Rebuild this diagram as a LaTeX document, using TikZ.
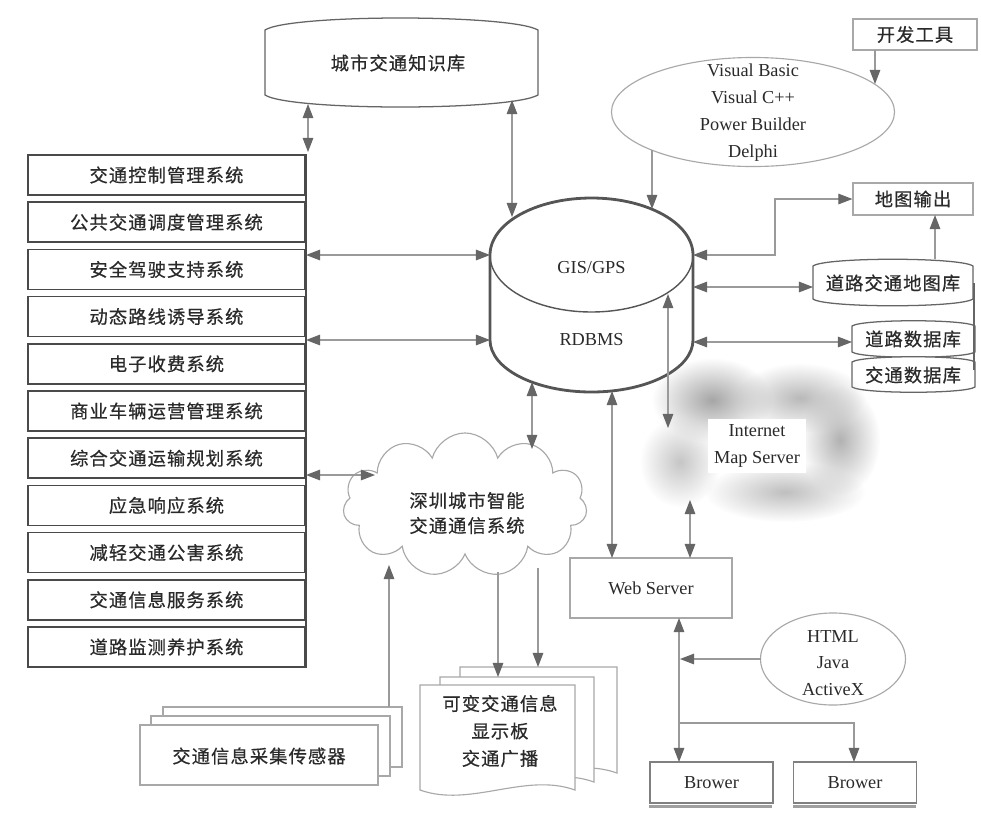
\documentclass[tikz,border=0pt]{standalone}
\usepackage{fontspec}
\setmainfont{Liberation Serif}
\newfontfamily\cjk{Noto Sans CJK SC}[LetterSpace=6, FakeBold=0.5]
\usetikzlibrary{arrows.meta,shapes.geometric,shapes.symbols,fadings}
\definecolor{boxg}{HTML}{4A4A4A}
\definecolor{lineg}{HTML}{9A9A9A}
\definecolor{arrg}{HTML}{666666}
\definecolor{cylg}{HTML}{555555}
\definecolor{ellg}{HTML}{A8A8A8}
\definecolor{txtg}{HTML}{2A2A2A}
\tikzfading[name=softcirc, inner color=transparent!0, outer color=transparent!100]
\begin{document}
\begin{tikzpicture}[x=0.025cm, y=-0.025cm,
  >={Triangle[length=10pt,width=7.5pt,color=arrg]},
  cn/.style={draw=lineg, line width=0.8pt},
  sa/.style={cn, ->},
  da/.style={cn, <->},
  zh/.style={font=\cjk\fontsize{13}{15}\selectfont, text=txtg},
  en/.style={font=\fontsize{13}{19}\selectfont, text=txtg},
  sysbox/.style={zh, draw=boxg, line width=1.1pt, minimum width=6.925cm, minimum height=1cm, inner sep=0pt, fill=white},
  thinbox/.style={draw=ellg, line width=0.8pt, fill=white},
  dbshape/.style={draw=boxg!85, line width=0.9pt, fill=white}
]
\fill[white] (0,0) rectangle (981,818);
\useasboundingbox (0,0) rectangle (981,818);

% ---------- knowledge base ----------
\draw[dbshape] (265,30) .. controls (290,14) and (510,14) .. (538,30) -- (538,95) .. controls (510,111) and (290,111) .. (265,95) -- cycle;
\node[zh] (kb) at (398,63) {城市交通知识库};

% ---------- list of systems ----------
\foreach \t [count=\i] in {交通控制管理系统,公共交通调度管理系统,安全驾驶支持系统,动态路线诱导系统,电子收费系统,商业车辆运营管理系统,综合交通运输规划系统,应急响应系统,减轻交通公害系统,交通信息服务系统,道路监测养护系统}
  \node[sysbox] (s\i) at (166.5,{175+47.2*(\i-1)}) {\t};
\draw[boxg, line width=1.3pt] (s1.north east) -- (s11.south east);

% ---------- cylinder ----------
\draw[cylg, line width=2pt, fill=white] (490,255) -- (490,340) .. controls (490,368.7) and (535.4,392) .. (591.5,392) .. controls (647.6,392) and (693,368.7) .. (693,340) -- (693,255) .. controls (693,223.5) and (647.6,198) .. (591.5,198) .. controls (535.4,198) and (490,223.5) .. (490,255) -- cycle;
\draw[cylg, line width=1pt] (490,255) .. controls (490,286.5) and (535.4,312) .. (591.5,312) .. controls (647.6,312) and (693,286.5) .. (693,255);
\node[en] (gis) at (591.5,268) {GIS/GPS};
\node[en] (rdb) at (591.5,340) {RDBMS};

% ---------- dev tools ----------
\node[ellipse, draw=ellg, line width=0.8pt, minimum width=7.075cm, minimum height=2.725cm, inner sep=0pt] (vb) at (753,112) {};
\node[en, align=center, font=\fontsize{13}{19.2}\selectfont] (vbt) at (753,113) {Visual Basic\\Visual C++\\Power Builder\\Delphi};
\node[zh, thinbox, minimum width=3.1cm, minimum height=0.775cm, inner sep=0pt] (kf) at (915,34.5) {开发工具};

% ---------- right databases ----------
\node[zh, thinbox, minimum width=3cm, minimum height=0.8cm, inner sep=0pt] (dt) at (913,199) {地图输出};
\draw[dbshape] (813,266) .. controls (825,257) and (960,257) .. (973,266) -- (973,299) .. controls (960,308) and (825,308) .. (813,299) -- cycle;
\node[zh] (mapdb) at (893,283) {道路交通地图库};
\draw[dbshape] (852,326) .. controls (862,319) and (965,319) .. (975,326) -- (975,352) .. controls (965,359) and (862,359) .. (852,352) -- cycle;
\draw[dbshape] (852,362) .. controls (862,355) and (965,355) .. (975,362) -- (975,387) .. controls (965,394) and (862,394) .. (852,387) -- cycle;
\draw[boxg!85, line width=0.9pt] (974,283) -- (974,370);
\node[zh] (roaddb) at (913,339) {道路数据库};
\node[zh] (trafdb) at (913,375) {交通数据库};

% ---------- internet map server cloud ----------
\fill[gray!70, path fading=softcirc] (712,400) ellipse (60 and 42);
\fill[gray!55, path fading=softcirc] (800,398) ellipse (65 and 35);
\fill[gray!60, path fading=softcirc] (840,440) ellipse (40 and 55);
\fill[gray!50, path fading=softcirc] (785,492) ellipse (80 and 30);
\fill[gray!45, path fading=softcirc] (680,462) ellipse (40 and 45);
\node[en, fill=white, align=center, inner sep=4pt, font=\fontsize{13}{19}\selectfont] (ims) at (757,446) {Internet\\Map Server};

% ---------- communication cloud ----------
\node[cloud, cloud puffs=11, cloud ignores aspect, draw=ellg, line width=0.8pt, fill=white, minimum width=6.1cm, minimum height=3.6cm, inner sep=0pt] (comm) at (465,505) {};
\node[zh, align=center, font=\cjk\fontsize{13}{17.8}\selectfont] (commt) at (467,513) {深圳城市智能\\交通通信系统};

% ---------- sensors ----------
\draw[thinbox] (163,707) rectangle (402,767);
\draw[thinbox] (151,716) rectangle (390,776);
\draw[thinbox] (140,725) rectangle (378,785);
\node[zh] (sens) at (259,756) {交通信息采集传感器};

% ---------- display pages ----------
\foreach \xa/\xb/\yt/\yb in {460/617/667/773, 440/594/677/782, 420/575/685/790}
  \draw[thinbox] (\xa,\yt) -- (\xb,\yt) -- (\xb,\yb) .. controls ({\xb-50},{\yb-18}) and ({\xa+50},{\yb+18}) .. (\xa,\yb) -- cycle;
\node[zh, align=center, font=\cjk\fontsize{13}{19.5}\selectfont] (disp) at (500,731) {可变交通信息\\显示板\\交通广播};

% ---------- web ----------
\node[en, thinbox, minimum width=4.05cm, minimum height=1.5cm] (web) at (651,588) {Web Server};
\node[ellipse, draw=ellg, line width=0.8pt, minimum width=3.625cm, minimum height=2.3cm, inner sep=0pt] (hj) at (833,659) {};
\node[en, align=center, font=\fontsize{13}{18.8}\selectfont] (hjt) at (833,663) {HTML\\Java\\ActiveX};
\node[en, draw=boxg!70, line width=0.8pt, minimum width=3.075cm, minimum height=1.025cm] (b1) at (711.5,782.5) {Brower};
\node[en, draw=boxg!70, line width=0.8pt, minimum width=3.075cm, minimum height=1.025cm] (b2) at (855,782.5) {Brower};
\draw[gray!75, line width=2.2pt] (b1.south west) ++(0,3) -- ++(123,0);
\draw[gray!75, line width=2.2pt] (b2.south west) ++(0,3) -- ++(123,0);

% ---------- connector end points ----------
\coordinate (kbL) at (308,104);   \coordinate (s1T) at (308,152);
\coordinate (kbR) at (512,100);   \coordinate (cyT1) at (512,217);
\coordinate (vbB) at (652,150);   \coordinate (cyT2) at (652,209);
\coordinate (kfB) at (875,50);    \coordinate (vbR) at (875,84);
\coordinate (cyR1) at (693,255);  \coordinate (cyR2) at (693,287);  \coordinate (cyR3) at (693,342);
\coordinate (mapdbL) at (813,287); \coordinate (roaddbL) at (852,342);
\coordinate (cyL1) at (490,255);  \coordinate (cyL2) at (490,340);
\coordinate (lsA) at (306,255);   \coordinate (lsB) at (306,340);   \coordinate (lsC) at (306,475);
\coordinate (cmL) at (375,475);
\coordinate (mapdbB) at (935,259); \coordinate (dtB) at (935,215);
\coordinate (cyIn) at (668,294);  \coordinate (imsT) at (668,428);
\coordinate (imsB) at (690,500);  \coordinate (webT1) at (690,558);
\coordinate (cyB1) at (612,391);  \coordinate (webT2) at (612,558);
\coordinate (cyB2) at (532,382);  \coordinate (cmT) at (532,449);
\coordinate (senT) at (389,707);  \coordinate (cmB) at (389,565);
\coordinate (cmB1) at (498,572);  \coordinate (dpT1) at (498,677);
\coordinate (cmB2) at (538,568);  \coordinate (dpT2) at (538,667);
\coordinate (webB) at (679,618);  \coordinate (b1T) at (679,762);
\coordinate (brJ) at (679,723);   \coordinate (b2T) at (854,762);
\coordinate (hjL) at (761,659);   \coordinate (brL) at (680,659);

% ---------- connectors ----------
\draw[da] (kbL) -- (s1T);
\draw[da] (kbR) -- (cyT1);
\draw[sa] (vbB) -- (cyT2);
\draw[sa] (kfB) -- (vbR);
\draw[da] (cyR1) -- (775,255) -- (775,199) -- (dt.west);
\draw[da] (cyR2) -- (mapdbL);
\draw[da] (cyR3) -- (roaddbL);
\draw[sa] (mapdbB) -- (dtB);
\draw[da] (lsA) -- (cyL1);
\draw[da] (lsB) -- (cyL2);
\draw[da] (lsC) -- (cmL);
\draw[da] (cyIn) -- (imsT);
\draw[da] (imsB) -- (webT1);
\draw[da] (cyB1) -- (webT2);
\draw[da] (cyB2) -- (cmT);
\draw[sa] (senT) -- (cmB);
\draw[sa] (cmB1) -- (dpT1);
\draw[sa] (cmB2) -- (dpT2);
\draw[da] (webB) -- (b1T);
\draw[sa] (brJ) -- (854,723) -- (b2T);
\draw[sa] (hjL) -- (brL);
\end{tikzpicture}
\end{document}
